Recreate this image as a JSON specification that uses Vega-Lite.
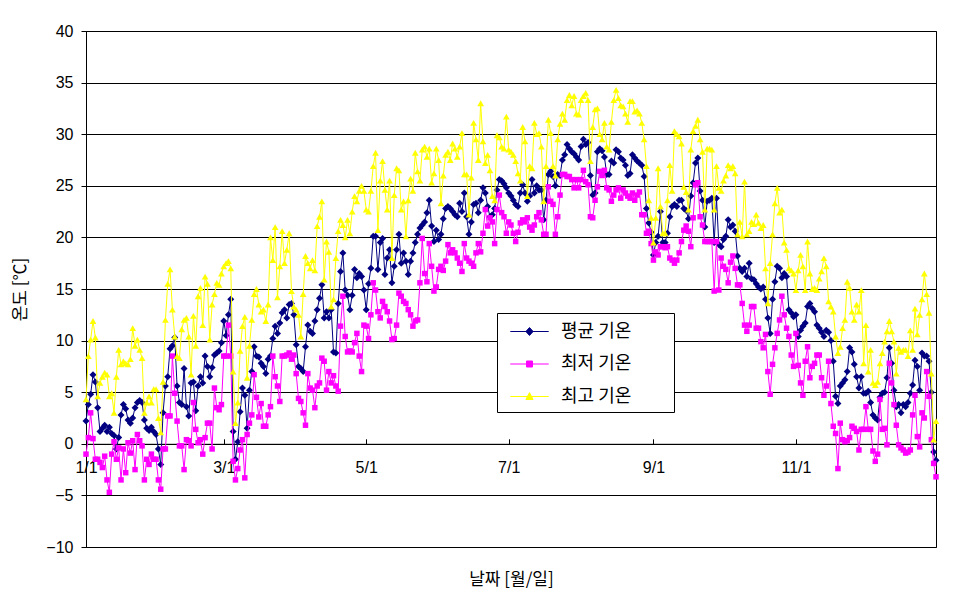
{
"$schema": "https://vega.github.io/schema/vega-lite/v6.json",
"width": 850, "height": 516,
"autosize": {"type": "none"},
"padding": {"left": 86, "top": 31, "right": 41, "bottom": 53},
"background": "white",
"config": {"view": {"stroke": "black", "strokeWidth": 1}, "font": "Liberation Sans"},
"data": {"values": [
{"d":0,"a":2.2,"n":-1.0,"x":4.3},{"d":1,"a":3.8,"n":0.6,"x":8.5},{"d":2,"a":4.8,"n":3.0,"x":10.1},{"d":3,"a":6.7,"n":0.5,"x":11.9},{"d":4,"a":6.0,"n":-1.5,"x":10.3},{"d":5,"a":3.5,"n":-1.5,"x":4.6},{"d":6,"a":1.2,"n":-1.8,"x":5.9},{"d":7,"a":1.5,"n":-2.3,"x":6.5},{"d":8,"a":1.8,"n":-1.2,"x":6.9},{"d":9,"a":1.2,"n":-3.5,"x":6.7},
{"d":10,"a":1.6,"n":-4.7,"x":4.6},{"d":11,"a":1.0,"n":-1.0,"x":4.9},{"d":12,"a":0.8,"n":0.2,"x":3.0},{"d":13,"a":-0.5,"n":-1.5,"x":6.5},{"d":14,"a":0.6,"n":-0.4,"x":9.1},{"d":15,"a":2.8,"n":-3.5,"x":7.7},{"d":16,"a":3.8,"n":-0.5,"x":8.0},{"d":17,"a":3.4,"n":-2.8,"x":7.8},{"d":18,"a":2.3,"n":0.1,"x":7.7},{"d":19,"a":2.0,"n":-0.9,"x":8.2},
{"d":20,"a":2.5,"n":0.3,"x":11.2},{"d":21,"a":3.5,"n":-2.5,"x":9.5},{"d":22,"a":4.0,"n":0.9,"x":10.1},{"d":23,"a":4.2,"n":0.3,"x":9.1},{"d":24,"a":4.0,"n":-0.2,"x":8.3},{"d":25,"a":2.3,"n":-3.5,"x":3.0},{"d":26,"a":1.5,"n":-1.5,"x":4.0},{"d":27,"a":1.3,"n":-2.0,"x":4.6},{"d":28,"a":1.6,"n":-1.0,"x":4.0},{"d":29,"a":1.2,"n":-1.5,"x":5.3},
{"d":30,"a":0.9,"n":-1.5,"x":5.3},{"d":31,"a":-0.5,"n":-3.5,"x":2.5},{"d":32,"a":-2.0,"n":-4.4,"x":1.1},{"d":33,"a":3.0,"n":-0.5,"x":6.0},{"d":34,"a":5.6,"n":-0.5,"x":12.0},{"d":35,"a":6.5,"n":2.7,"x":15.5},{"d":36,"a":9.2,"n":2.7,"x":16.9},{"d":37,"a":9.5,"n":8.5,"x":13.0},{"d":38,"a":10.3,"n":4.9,"x":10.4},{"d":39,"a":5.6,"n":2.2,"x":8.5},
{"d":40,"a":4.0,"n":-0.2,"x":8.3},{"d":41,"a":3.8,"n":-0.2,"x":11.1},{"d":42,"a":7.3,"n":-2.5,"x":12.0},{"d":43,"a":3.6,"n":0.4,"x":12.2},{"d":44,"a":2.7,"n":0.3,"x":10.4},{"d":45,"a":5.9,"n":-0.2,"x":6.7},{"d":46,"a":6.0,"n":4.0,"x":12.4},{"d":47,"a":3.2,"n":1.4,"x":9.5},{"d":48,"a":5.6,"n":0.1,"x":14.3},{"d":49,"a":6.5,"n":0.4,"x":15.1},
{"d":50,"a":5.9,"n":-1.0,"x":11.5},{"d":51,"a":8.5,"n":0.6,"x":16.2},{"d":52,"a":7.5,"n":2.0,"x":15.5},{"d":53,"a":6.5,"n":2.0,"x":10.1},{"d":54,"a":7.4,"n":-0.5,"x":13.5},{"d":55,"a":8.6,"n":5.4,"x":14.5},{"d":56,"a":8.8,"n":3.5,"x":15.6},{"d":57,"a":9.0,"n":3.3,"x":15.4},{"d":58,"a":9.8,"n":3.8,"x":16.5},{"d":59,"a":11.9,"n":8.5,"x":17.2},
{"d":60,"a":10.5,"n":8.5,"x":17.5},{"d":61,"a":12.5,"n":11.5,"x":17.7},{"d":62,"a":14.0,"n":8.5,"x":17.0},{"d":63,"a":1.2,"n":-1.7,"x":7.0},{"d":64,"a":-1.5,"n":-3.5,"x":2.0},{"d":65,"a":0.2,"n":-2.4,"x":4.0},{"d":66,"a":3.1,"n":-0.6,"x":9.0},{"d":67,"a":5.4,"n":0.4,"x":11.4},{"d":68,"a":4.7,"n":-3.3,"x":12.3},{"d":69,"a":1.5,"n":0.9,"x":6.4},
{"d":70,"a":5.2,"n":2.0,"x":9.5},{"d":71,"a":7.0,"n":2.8,"x":12.0},{"d":72,"a":9.4,"n":6.7,"x":14.5},{"d":73,"a":8.5,"n":4.5,"x":15.0},{"d":74,"a":8.4,"n":2.6,"x":13.5},{"d":75,"a":7.8,"n":3.9,"x":12.8},{"d":76,"a":7.5,"n":1.7,"x":13.0},{"d":77,"a":6.8,"n":1.7,"x":11.9},{"d":78,"a":8.2,"n":2.8,"x":13.5},{"d":79,"a":8.5,"n":3.6,"x":20.0},
{"d":80,"a":10.2,"n":8.5,"x":17.8},{"d":81,"a":11.4,"n":6.5,"x":21.0},{"d":82,"a":10.7,"n":5.6,"x":14.2},{"d":83,"a":11.7,"n":4.1,"x":17.2},{"d":84,"a":12.7,"n":8.5,"x":20.6},{"d":85,"a":13.0,"n":8.5,"x":17.5},{"d":86,"a":12.2,"n":8.6,"x":18.8},{"d":87,"a":13.5,"n":8.8,"x":20.4},{"d":88,"a":13.6,"n":8.2,"x":14.8},{"d":89,"a":12.5,"n":8.6,"x":13.3},
{"d":90,"a":9.6,"n":6.8,"x":13.0},{"d":91,"a":7.5,"n":4.4,"x":12.5},{"d":92,"a":7.3,"n":4.1,"x":10.4},{"d":93,"a":7.0,"n":3.0,"x":14.5},{"d":94,"a":9.4,"n":1.8,"x":18.2},{"d":95,"a":11.5,"n":6.8,"x":17.5},{"d":96,"a":10.9,"n":5.4,"x":17.0},{"d":97,"a":10.7,"n":5.2,"x":17.8},{"d":98,"a":11.9,"n":3.5,"x":16.8},{"d":99,"a":13.0,"n":5.6,"x":21.1},
{"d":100,"a":14.1,"n":5.9,"x":22.0},{"d":101,"a":15.4,"n":8.3,"x":23.5},{"d":102,"a":12.2,"n":8.0,"x":15.9},{"d":103,"a":12.8,"n":5.2,"x":19.6},{"d":104,"a":12.2,"n":7.0,"x":18.6},{"d":105,"a":13.0,"n":5.9,"x":13.3},{"d":106,"a":8.9,"n":6.6,"x":14.0},{"d":107,"a":8.8,"n":5.6,"x":18.0},{"d":108,"a":13.6,"n":5.1,"x":20.6},{"d":109,"a":16.7,"n":11.4,"x":21.7},
{"d":110,"a":18.5,"n":14.3,"x":21.2},{"d":111,"a":14.9,"n":10.4,"x":20.0},{"d":112,"a":14.4,"n":8.9,"x":21.7},{"d":113,"a":13.0,"n":9.0,"x":20.4},{"d":114,"a":14.4,"n":8.9,"x":22.5},{"d":115,"a":16.9,"n":9.8,"x":24.0},{"d":116,"a":16.1,"n":10.7,"x":23.5},{"d":117,"a":16.5,"n":8.5,"x":24.5},{"d":118,"a":16.2,"n":7.0,"x":25.0},{"d":119,"a":14.9,"n":11.5,"x":24.5},
{"d":120,"a":13.0,"n":11.4,"x":22.7},{"d":121,"a":15.5,"n":10.2,"x":22.5},{"d":122,"a":17.0,"n":12.5,"x":24.5},{"d":123,"a":20.1,"n":15.6,"x":26.9},{"d":124,"a":20.1,"n":14.9,"x":28.2},{"d":125,"a":16.9,"n":12.8,"x":20.7},{"d":126,"a":19.5,"n":12.2,"x":25.5},{"d":127,"a":19.9,"n":13.8,"x":27.4},{"d":128,"a":16.4,"n":13.3,"x":24.6},{"d":129,"a":18.0,"n":12.8,"x":22.7},
{"d":130,"a":18.8,"n":11.9,"x":25.5},{"d":131,"a":15.6,"n":10.1,"x":18.0},{"d":132,"a":17.2,"n":10.2,"x":24.1},{"d":133,"a":18.8,"n":11.5,"x":26.7},{"d":134,"a":20.3,"n":14.6,"x":26.5},{"d":135,"a":17.5,"n":14.3,"x":22.7},{"d":136,"a":18.5,"n":13.8,"x":23.5},{"d":137,"a":17.7,"n":13.6,"x":20.1},{"d":138,"a":16.4,"n":13.0,"x":23.6},{"d":139,"a":17.7,"n":12.5,"x":25.7},
{"d":140,"a":18.5,"n":11.4,"x":24.5},{"d":141,"a":19.5,"n":11.9,"x":28.2},{"d":142,"a":20.3,"n":12.0,"x":26.4},{"d":143,"a":20.9,"n":15.6,"x":25.5},{"d":144,"a":21.2,"n":19.9,"x":28.5},{"d":145,"a":21.5,"n":16.5,"x":28.8},{"d":146,"a":22.4,"n":15.7,"x":27.8},{"d":147,"a":23.6,"n":19.4,"x":28.6},{"d":148,"a":21.1,"n":17.2,"x":25.3},{"d":149,"a":19.6,"n":14.8,"x":26.2},
{"d":150,"a":20.7,"n":15.2,"x":28.6},{"d":151,"a":19.8,"n":16.9,"x":27.5},{"d":152,"a":20.3,"n":17.2,"x":23.3},{"d":153,"a":21.8,"n":16.8,"x":26.0},{"d":154,"a":22.8,"n":17.7,"x":28.0},{"d":155,"a":23.0,"n":19.3,"x":28.3},{"d":156,"a":22.8,"n":18.5,"x":27.5},{"d":157,"a":22.5,"n":18.8,"x":29.1},{"d":158,"a":22.2,"n":18.5,"x":28.6},{"d":159,"a":22.0,"n":18.0,"x":27.8},
{"d":160,"a":23.3,"n":17.5,"x":28.8},{"d":161,"a":22.5,"n":16.7,"x":30.1},{"d":162,"a":24.3,"n":19.4,"x":26.1},{"d":163,"a":22.0,"n":18.0,"x":26.1},{"d":164,"a":20.3,"n":17.7,"x":22.2},{"d":165,"a":21.5,"n":17.5,"x":25.8},{"d":166,"a":23.2,"n":17.2,"x":31.1},{"d":167,"a":23.3,"n":18.5,"x":29.5},{"d":168,"a":22.4,"n":19.4,"x":27.5},{"d":169,"a":23.6,"n":18.6,"x":33.0},
{"d":170,"a":24.8,"n":20.4,"x":29.3},{"d":171,"a":24.3,"n":22.7,"x":27.2},{"d":172,"a":23.0,"n":21.1,"x":28.0},{"d":173,"a":22.0,"n":21.9,"x":26.5},{"d":174,"a":22.2,"n":21.5,"x":24.0},{"d":175,"a":22.8,"n":19.4,"x":23.6},{"d":176,"a":24.6,"n":22.7,"x":29.9},{"d":177,"a":25.6,"n":24.1,"x":29.7},{"d":178,"a":25.5,"n":22.4,"x":28.8},{"d":179,"a":25.2,"n":22.0,"x":28.6},
{"d":180,"a":24.8,"n":20.4,"x":31.7},{"d":181,"a":24.3,"n":21.5,"x":28.5},{"d":182,"a":24.0,"n":21.2,"x":28.3},{"d":183,"a":23.6,"n":20.4,"x":28.0},{"d":184,"a":23.2,"n":19.6,"x":27.4},{"d":185,"a":23.0,"n":20.5,"x":26.2},{"d":186,"a":24.3,"n":21.4,"x":25.5},{"d":187,"a":25.1,"n":21.7,"x":30.7},{"d":188,"a":24.3,"n":21.5,"x":29.3},{"d":189,"a":23.5,"n":21.9,"x":24.0},
{"d":190,"a":24.0,"n":21.0,"x":26.9},{"d":191,"a":25.6,"n":20.7,"x":26.7},{"d":192,"a":24.3,"n":21.2,"x":31.1},{"d":193,"a":25.0,"n":22.0,"x":30.0},{"d":194,"a":24.6,"n":22.4,"x":30.1},{"d":195,"a":24.6,"n":21.7,"x":28.8},{"d":196,"a":21.7,"n":20.3,"x":23.5},{"d":197,"a":23.6,"n":20.3,"x":26.9},{"d":198,"a":26.1,"n":24.9,"x":31.4},{"d":199,"a":26.4,"n":23.5,"x":30.1},
{"d":200,"a":25.9,"n":23.2,"x":26.9},{"d":201,"a":25.0,"n":20.3,"x":26.0},{"d":202,"a":26.1,"n":22.0,"x":29.5},{"d":203,"a":26.0,"n":24.1,"x":31.0},{"d":204,"a":27.5,"n":26.1,"x":32.0},{"d":205,"a":28.0,"n":26.1,"x":31.4},{"d":206,"a":29.0,"n":25.9,"x":33.3},{"d":207,"a":28.6,"n":25.9,"x":33.8},{"d":208,"a":28.3,"n":25.6,"x":32.8},{"d":209,"a":28.1,"n":24.8,"x":33.7},
{"d":210,"a":27.8,"n":25.6,"x":32.0},{"d":211,"a":27.5,"n":24.8,"x":31.9},{"d":212,"a":28.8,"n":25.6,"x":33.3},{"d":213,"a":29.5,"n":26.5,"x":33.7},{"d":214,"a":29.0,"n":25.4,"x":34.0},{"d":215,"a":29.2,"n":25.1,"x":33.3},{"d":216,"a":26.0,"n":22.0,"x":27.4},{"d":217,"a":24.1,"n":21.9,"x":30.7},{"d":218,"a":24.3,"n":23.6,"x":32.4},{"d":219,"a":28.3,"n":24.9,"x":32.5},
{"d":220,"a":28.6,"n":26.4,"x":30.0},{"d":221,"a":28.4,"n":26.0,"x":29.5},{"d":222,"a":27.8,"n":26.5,"x":31.1},{"d":223,"a":26.1,"n":24.8,"x":28.8},{"d":224,"a":26.1,"n":24.6,"x":28.5},{"d":225,"a":27.4,"n":23.5,"x":31.2},{"d":226,"a":27.2,"n":24.1,"x":33.3},{"d":227,"a":28.5,"n":24.6,"x":34.3},{"d":228,"a":28.3,"n":24.8,"x":33.5},{"d":229,"a":27.7,"n":23.8,"x":32.8},
{"d":230,"a":27.5,"n":24.6,"x":32.7},{"d":231,"a":27.0,"n":24.3,"x":32.0},{"d":232,"a":26.0,"n":24.0,"x":31.2},{"d":233,"a":26.2,"n":23.8,"x":33.2},{"d":234,"a":28.0,"n":24.3,"x":33.2},{"d":235,"a":27.7,"n":23.6,"x":32.2},{"d":236,"a":27.4,"n":24.1,"x":32.3},{"d":237,"a":27.2,"n":24.4,"x":32.0},{"d":238,"a":27.0,"n":22.2,"x":31.1},{"d":239,"a":25.9,"n":22.2,"x":29.5},
{"d":240,"a":22.8,"n":20.4,"x":26.9},{"d":241,"a":21.4,"n":20.6,"x":23.6},{"d":242,"a":20.5,"n":19.4,"x":21.9},{"d":243,"a":18.3,"n":17.8,"x":19.5},{"d":244,"a":19.5,"n":18.6,"x":21.9},{"d":245,"a":20.1,"n":18.3,"x":26.7},{"d":246,"a":22.5,"n":19.1,"x":23.0},{"d":247,"a":19.5,"n":19.1,"x":20.4},{"d":248,"a":19.5,"n":19.0,"x":20.4},{"d":249,"a":20.4,"n":19.1,"x":23.6},
{"d":250,"a":22.0,"n":18.0,"x":27.0},{"d":251,"a":23.0,"n":17.8,"x":24.5},{"d":252,"a":23.2,"n":17.5,"x":30.3},{"d":253,"a":23.0,"n":17.8,"x":30.0},{"d":254,"a":23.6,"n":18.5,"x":29.8},{"d":255,"a":23.6,"n":19.6,"x":29.1},{"d":256,"a":22.8,"n":20.7,"x":24.9},{"d":257,"a":22.6,"n":21.1,"x":24.4},{"d":258,"a":21.8,"n":20.6,"x":22.7},{"d":259,"a":24.0,"n":19.1,"x":28.5},
{"d":260,"a":25.3,"n":21.9,"x":30.3},{"d":261,"a":27.2,"n":25.1,"x":30.8},{"d":262,"a":27.7,"n":25.3,"x":31.4},{"d":263,"a":24.5,"n":22.0,"x":29.5},{"d":264,"a":23.6,"n":21.2,"x":28.3},{"d":265,"a":21.0,"n":19.6,"x":22.7},{"d":266,"a":23.5,"n":19.6,"x":28.6},{"d":267,"a":23.6,"n":19.6,"x":28.6},{"d":268,"a":23.8,"n":19.6,"x":28.5},{"d":269,"a":19.5,"n":14.8,"x":22.7},
{"d":270,"a":23.8,"n":19.6,"x":26.9},{"d":271,"a":19.3,"n":14.9,"x":24.8},{"d":272,"a":19.1,"n":18.0,"x":24.5},{"d":273,"a":19.8,"n":17.2,"x":25.5},{"d":274,"a":20.1,"n":16.9,"x":26.0},{"d":275,"a":21.7,"n":15.6,"x":27.0},{"d":276,"a":21.0,"n":17.6,"x":26.7},{"d":277,"a":21.2,"n":18.2,"x":26.9},{"d":278,"a":20.6,"n":17.0,"x":26.2},{"d":279,"a":18.2,"n":15.4,"x":20.3},
{"d":280,"a":17.0,"n":15.4,"x":21.5},{"d":281,"a":16.7,"n":13.6,"x":20.1},{"d":282,"a":17.0,"n":11.5,"x":25.4},{"d":283,"a":16.2,"n":10.9,"x":20.3},{"d":284,"a":17.5,"n":11.5,"x":20.6},{"d":285,"a":16.0,"n":13.3,"x":21.5},{"d":286,"a":15.9,"n":13.3,"x":21.3},{"d":287,"a":15.5,"n":11.2,"x":22.2},{"d":288,"a":15.2,"n":11.2,"x":21.4},{"d":289,"a":15.0,"n":9.9,"x":20.9},
{"d":290,"a":15.2,"n":9.3,"x":21.2},{"d":291,"a":14.0,"n":10.6,"x":17.0},{"d":292,"a":12.2,"n":7.0,"x":13.6},{"d":293,"a":10.7,"n":4.8,"x":17.5},{"d":294,"a":14.0,"n":7.7,"x":20.3},{"d":295,"a":15.7,"n":9.3,"x":23.3},{"d":296,"a":17.2,"n":10.7,"x":24.8},{"d":297,"a":17.0,"n":12.0,"x":22.4},{"d":298,"a":16.1,"n":14.3,"x":22.7},{"d":299,"a":16.5,"n":12.5,"x":19.5},
{"d":300,"a":16.2,"n":11.2,"x":18.8},{"d":301,"a":13.0,"n":10.4,"x":17.0},{"d":302,"a":12.7,"n":8.6,"x":16.8},{"d":303,"a":12.3,"n":7.5,"x":16.5},{"d":304,"a":12.5,"n":10.7,"x":14.9},{"d":305,"a":10.4,"n":7.6,"x":16.8},{"d":306,"a":11.0,"n":5.9,"x":18.3},{"d":307,"a":11.4,"n":4.7,"x":17.2},{"d":308,"a":11.7,"n":8.0,"x":14.9},{"d":309,"a":13.3,"n":9.4,"x":19.6},
{"d":310,"a":13.6,"n":6.4,"x":16.5},{"d":311,"a":13.1,"n":7.5,"x":15.0},{"d":312,"a":12.8,"n":7.8,"x":15.1},{"d":313,"a":11.5,"n":8.6,"x":14.9},{"d":314,"a":11.2,"n":8.6,"x":16.0},{"d":315,"a":10.8,"n":6.4,"x":16.7},{"d":316,"a":10.4,"n":4.7,"x":18.0},{"d":317,"a":11.0,"n":5.6,"x":17.2},{"d":318,"a":10.8,"n":8.0,"x":13.8},{"d":319,"a":10.0,"n":3.9,"x":13.3},
{"d":320,"a":8.0,"n":1.7,"x":12.8},{"d":321,"a":4.6,"n":1.0,"x":10.4},{"d":322,"a":3.9,"n":-2.4,"x":8.8},{"d":323,"a":5.6,"n":2.0,"x":9.4},{"d":324,"a":5.9,"n":0.4,"x":11.2},{"d":325,"a":6.2,"n":0.2,"x":12.0},{"d":326,"a":7.0,"n":0.3,"x":15.7},{"d":327,"a":9.3,"n":0.6,"x":15.1},{"d":328,"a":8.9,"n":1.7,"x":12.8},{"d":329,"a":7.7,"n":1.5,"x":12.0},
{"d":330,"a":6.5,"n":1.2,"x":13.5},{"d":331,"a":5.4,"n":-0.6,"x":12.8},{"d":332,"a":6.5,"n":1.4,"x":14.9},{"d":333,"a":4.9,"n":1.4,"x":7.8},{"d":334,"a":4.9,"n":3.6,"x":11.5},{"d":335,"a":5.1,"n":1.4,"x":7.0},{"d":336,"a":4.0,"n":1.4,"x":9.1},{"d":337,"a":2.8,"n":-0.7,"x":5.9},{"d":338,"a":2.5,"n":-1.7,"x":5.7},{"d":339,"a":2.3,"n":-1.0,"x":6.0},
{"d":340,"a":4.5,"n":4.3,"x":7.8},{"d":341,"a":4.9,"n":1.4,"x":8.8},{"d":342,"a":5.0,"n":1.5,"x":9.9},{"d":343,"a":6.4,"n":-0.1,"x":10.9},{"d":344,"a":9.3,"n":7.8,"x":11.9},{"d":345,"a":7.8,"n":5.9,"x":10.9},{"d":346,"a":5.2,"n":3.8,"x":9.9},{"d":347,"a":3.6,"n":1.8,"x":6.8},{"d":348,"a":3.8,"n":-0.1,"x":9.3},{"d":349,"a":3.0,"n":-0.4,"x":8.9},
{"d":350,"a":3.8,"n":-0.6,"x":9.1},{"d":351,"a":3.6,"n":-0.9,"x":9.1},{"d":352,"a":4.0,"n":-0.8,"x":8.5},{"d":353,"a":4.9,"n":-0.6,"x":11.0},{"d":354,"a":5.7,"n":2.8,"x":9.1},{"d":355,"a":8.1,"n":4.7,"x":13.1},{"d":356,"a":7.5,"n":0.7,"x":10.6},{"d":357,"a":5.2,"n":-0.3,"x":12.5},{"d":358,"a":8.8,"n":3.0,"x":14.0},{"d":359,"a":8.5,"n":2.5,"x":16.5},
{"d":360,"a":8.5,"n":7.0,"x":14.5},{"d":361,"a":8.0,"n":4.6,"x":12.7},{"d":362,"a":5.0,"n":0.4,"x":6.8},{"d":363,"a":-0.8,"n":-1.9,"x":0.4},{"d":364,"a":-1.6,"n":-3.2,"x":2.2}
]},
"transform": [{"fold": ["a", "n", "x"], "as": ["s", "t"]}],
"encoding": {
  "x": {"field": "d", "type": "quantitative",
    "scale": {"domain": [0, 364], "nice": false, "zero": false},
    "axis": {"values": [0, 59, 120, 181, 243, 304],
      "labelExpr": "datum.value == 0 ? '1/1' : datum.value == 59 ? '3/1' : datum.value == 120 ? '5/1' : datum.value == 181 ? '7/1' : datum.value == 243 ? '9/1' : '11/1'",
      "offset": -103.2, "grid": false, "domainColor": "black", "tickColor": "black", "tickSize": -5,
      "labelPadding": 21, "labelFontSize": 16, "labelColor": "black", "labelFlush": false, "labelOverlap": false,
      "title": "날짜 [월/일]", "titleFont": "Noto Sans CJK KR", "titleFontSize": 17, "titleFontWeight": "normal", "titleColor": "black",
      "titleY": 136, "titleBaseline": "middle"}},
  "y": {"field": "t", "type": "quantitative",
    "scale": {"domain": [-10, 40], "nice": false, "zero": false},
    "axis": {"values": [-10, -5, 0, 5, 10, 15, 20, 25, 30, 35, 40],
      "grid": true, "gridColor": "black", "gridOpacity": 1, "gridWidth": 1,
      "domainColor": "black", "tickColor": "black", "tickSize": 5, "labelPadding": 8,
      "labelFontSize": 16, "labelColor": "black",
      "title": "온도 [℃]", "titleFont": "Noto Sans CJK KR", "titleFontSize": 17, "titleFontWeight": "normal", "titleColor": "black",
      "titleX": -66, "titleY": 258, "titleAngle": 270, "titleBaseline": "middle", "titleAlign": "center"}},
  "color": {"field": "s", "type": "nominal",
    "scale": {"domain": ["a", "n", "x"], "range": ["#000080", "#FF00FF", "#FFFF00"]},
    "legend": {"orient": "none", "legendX": 411, "legendY": 282, "title": null,
      "padding": 6, "strokeColor": "black", "fillColor": "white",
      "labelFont": "Noto Sans CJK KR", "labelFontSize": 18, "labelColor": "black",
      "labelExpr": "(datum.value == 'a' ? '평균 기온' : datum.value == 'n' ? '최저 기온' : '최고 기온') + '\u3000\u3000\u200b'",
      "symbolSize": 576, "symbolOffset": 14, "rowPadding": 10.5, "labelOffset": 19, "symbolStrokeWidth": 1,
      "encode": {"symbols": {"update": {
        "shape": {"signal": "datum.value == 'a' ? 'M-1.6,0H1.6M-0.3,0L0,-0.33L0.3,0L0,0.33Z' : datum.value == 'n' ? 'M-1.6,0H1.6M-0.25,-0.25H0.25V0.25H-0.25Z' : 'M-1.6,0H1.6M0,-0.32L0.3,0.25L-0.3,0.25Z'"},
        "fill": {"scale": "color", "field": "value"},
        "stroke": {"scale": "color", "field": "value"},
        "fillOpacity": {"value": 1}, "strokeWidth": {"value": 1}, "opacity": {"value": 1}}}}}}
},
"layer": [
  {"transform": [{"filter": "datum.s == 'a'"}], "mark": {"type": "line", "strokeWidth": 1, "point": {"shape": "diamond", "filled": true, "size": 49}}},
  {"transform": [{"filter": "datum.s == 'n'"}], "mark": {"type": "line", "strokeWidth": 1, "point": {"shape": "square", "filled": true, "size": 30}}},
  {"transform": [{"filter": "datum.s == 'x'"}], "mark": {"type": "line", "strokeWidth": 1, "point": {"shape": "triangle-up", "filled": true, "size": 45}}}
]
}
